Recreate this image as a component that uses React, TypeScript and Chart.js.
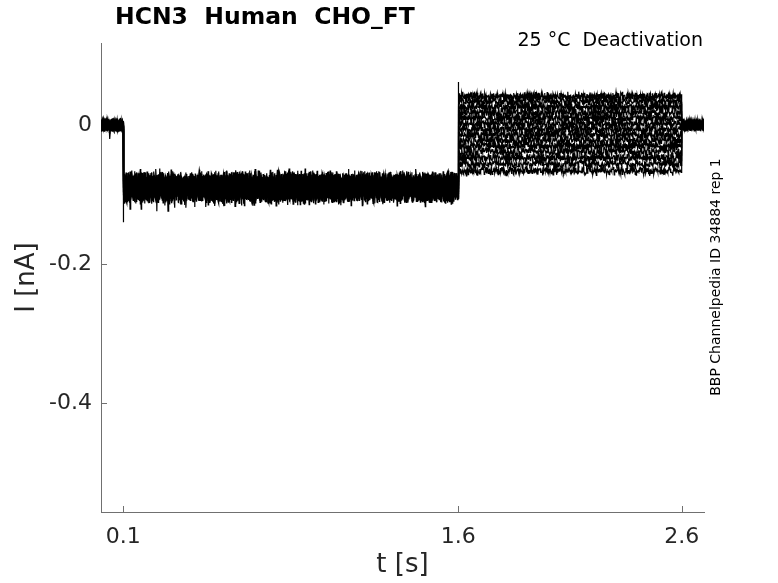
import React, { useEffect, useRef } from "react";
import { Chart, registerables } from "chart.js";

Chart.register(...registerables);

// ---- data ----
const xTicks = [0.1, 1.6, 2.6];
const yTicks = [0, -0.2, -0.4];
const xMin = 0;
const xMax = 2.7;
const yMin = -0.557;
const yMax = 0.118;

// protocol step times [s]
const stepTimes = [0.1, 1.6, 2.6];
// baseline current [nA]
const baseLevel = 0;
// holding current during the conditioning step, per sweep [nA]
const holdLevels = [-0.092, -0.088, -0.094, -0.086, -0.091, -0.089, -0.095, -0.087, -0.092, -0.088, -0.093, -0.085, -0.091, -0.089];
// current during the test step, per sweep [nA]
const testLevels = [0.041, 0.034, 0.026, 0.018, 0.010, 0.002, -0.006, -0.014, -0.022, -0.030, -0.038, -0.047, -0.056, -0.066];
// capacitive spikes
const onsetSpike = -0.14;
const testSpike = 0.062;
// small dip before the step, and deep excursions during the hold
const preDip = { t: 0.04, y: -0.02 };
const holdSpikes = [
  { t: 0.13, y: -0.121 },
  { t: 0.25, y: -0.124 },
  { t: 0.33, y: -0.119 },
  { t: 0.42, y: -0.118 },
  { t: 0.55, y: -0.117 },
  { t: 0.63, y: -0.116 },
  { t: 0.86, y: -0.114 },
  { t: 1.02, y: -0.113 },
  { t: 1.12, y: -0.116 },
  { t: 1.31, y: -0.112 },
  { t: 1.47, y: -0.111 },
];
// noise amplitude per segment [nA]
const noiseAmp = [0.009, 0.02, 0.0065, 0.008];
// hand-typed noise texture (unitless)
const noise = [
  0.3, -0.7, 0.5, 0.1, -0.2, 0.9, -0.4, -0.8, 0.6, 0.2, -0.1, 0.7, -0.6, 0.4, -0.9, 0.0, 0.8, -0.3, 0.5, -0.5,
  0.2, -0.7, 0.6, 0.1, -0.4, 0.9, -0.2, 0.3, -0.8, 0.4, -0.1, 0.7, -0.6, 0.0, 0.5, -0.3, 0.8, -0.9, 0.2, -0.5,
  0.6, -0.2, 0.1, -0.7, 0.9, -0.4, 0.3, -0.1, 0.7, -0.8, 0.4, 0.0, -0.6, 0.5, -0.3, 0.8, -0.2, 0.1, -0.9, 0.6,
  -0.5, 0.3, 0.7, -0.4, 0.2, -0.8, 0.5, -0.1, 0.9, -0.6, 0.0, 0.4, -0.3, 0.6, -0.7, 0.2, -0.2, 0.8, -0.5, 0.1,
  -0.9, 0.7, -0.4, 0.3, -0.6, 0.5, 0.0, -0.3, 0.9, -0.8, 0.2, -0.1, 0.6, -0.5, 0.4, -0.7, 0.1,
];
// per-sweep strides through the noise texture
const strides = [1, 2, 3, 4, 5, 6, 7, 8, 9, 10, 11, 12, 13, 14];

const titleText = "HCN3  Human  CHO_FT";
const subText = "25 °C  Deactivation";
const sideText = "BBP Channelpedia ID 34884 rep 1";
const xLabel = "t [s]";
const yLabel = "I [nA]";

const SAMPLE_DT = 0.002;

function buildSweep(k: number) {
  const pts: { x: number; y: number }[] = [];
  const bounds = [xMin, stepTimes[0], stepTimes[1], stepTimes[2], xMax];
  const levels = [baseLevel, holdLevels[k], testLevels[k], baseLevel];
  let step = 0;
  const m = strides[k];
  const nz = () => {
    const a = noise[(step * m + k * 11) % noise.length];
    const b = noise[(step * (m + 3) + k * 7) % 89];
    step++;
    return 0.6 * a + 0.4 * b;
  };
  for (let s = 0; s < 4; s++) {
    const a = bounds[s];
    const b = bounds[s + 1];
    const n = Math.max(2, Math.round((b - a) / SAMPLE_DT));
    for (let i = 0; i <= n; i++) {
      const t = a + ((b - a) * i) / n;
      let y = levels[s] + nz() * noiseAmp[s] * 1.25;
      if (k === 0 && s === 0 && Math.abs(t - preDip.t) < SAMPLE_DT / 2) y = preDip.y;
      if (s === 1 && (k === 3 || k === 6)) {
        for (const hs of holdSpikes) {
          const tt = k === 3 ? hs.t : hs.t + 0.05;
          if (Math.abs(t - tt) < SAMPLE_DT / 2) y = hs.y;
        }
      }
      pts.push({ x: t, y });
    }
    if (k === 0 && s === 0) pts.push({ x: stepTimes[0], y: onsetSpike });
    if (k === 0 && s === 1) pts.push({ x: stepTimes[1], y: testSpike });
  }
  return pts;
}

const decor = {
  id: "decor",
  beforeDatasetsDraw(chart: any) {
    const { ctx, scales, chartArea } = chart;
    const x = scales.x;
    const y = scales.y;
    ctx.save();
    ctx.strokeStyle = "#707070";
    ctx.lineWidth = 1;
    xTicks.forEach((v) => {
      const px = Math.round(x.getPixelForValue(v)) + 0.5;
      ctx.beginPath();
      ctx.moveTo(px, chartArea.bottom);
      ctx.lineTo(px, chartArea.bottom - 6);
      ctx.stroke();
    });
    yTicks.forEach((v) => {
      const py = Math.round(y.getPixelForValue(v)) + 0.5;
      ctx.beginPath();
      ctx.moveTo(chartArea.left, py);
      ctx.lineTo(chartArea.left + 6, py);
      ctx.stroke();
    });
    ctx.restore();
  },
  afterDraw(chart: any) {
    const { ctx } = chart;
    ctx.save();
    ctx.fillStyle = "#000";
    ctx.textBaseline = "middle";
    ctx.textAlign = "left";
    ctx.font = 'bold 23.5px "DejaVu Sans"';
    ctx.fillText(titleText, 115, 18);
    ctx.font = '19px "DejaVu Sans"';
    ctx.textAlign = "right";
    ctx.fillText(subText, 703, 41);
    ctx.translate(716, 277);
    ctx.rotate(-Math.PI / 2);
    ctx.textAlign = "center";
    ctx.font = '14px "DejaVu Sans"';
    ctx.fillText(sideText, 0, 0);
    ctx.restore();
  },
};

export default function App() {
  const ref = useRef<HTMLCanvasElement | null>(null);
  useEffect(() => {
    if (!ref.current) return;
    const datasets = holdLevels.map((_, k) => ({
      data: buildSweep(k),
      borderColor: "#000",
      borderWidth: 1.2,
      pointRadius: 0,
      tension: 0,
      fill: false,
    }));
    const chart = new Chart(ref.current, {
      type: "line",
      data: { datasets },
      plugins: [decor],
      options: {
        animation: false,
        responsive: false,
        parsing: false,
        normalized: true,
        layout: { padding: { left: 0, top: 43, right: 74, bottom: 0 } },
        plugins: { legend: { display: false }, tooltip: { enabled: false } },
        scales: {
          x: {
            type: "linear",
            min: xMin,
            max: xMax,
            grid: { display: false, drawTicks: false },
            border: { display: true, color: "#707070", width: 1 },
            afterBuildTicks: (s: any) => {
              s.ticks = xTicks.map((v) => ({ value: v }));
            },
            afterFit: (s: any) => {
              s.height = 71;
            },
            ticks: {
              padding: 12,
              color: "#262626",
              font: { family: "DejaVu Sans", size: 22 },
              maxRotation: 0,
              autoSkip: false,
              callback: (v: any) => String(v),
            },
            title: {
              display: true,
              text: xLabel,
              color: "#262626",
              font: { family: "DejaVu Sans", size: 26 },
              padding: { top: 0, bottom: 2 },
            },
          },
          y: {
            type: "linear",
            min: yMin,
            max: yMax,
            grid: { display: false, drawTicks: false },
            border: { display: true, color: "#707070", width: 1 },
            afterBuildTicks: (s: any) => {
              s.ticks = yTicks.map((v) => ({ value: v }));
            },
            afterFit: (s: any) => {
              s.width = 101;
            },
            ticks: {
              padding: 9,
              color: "#262626",
              font: { family: "DejaVu Sans", size: 22 },
              autoSkip: false,
              callback: (v: any) => String(v),
            },
            title: {
              display: true,
              text: yLabel,
              color: "#262626",
              font: { family: "DejaVu Sans", size: 26 },
              padding: { top: 12, bottom: 0 },
            },
          },
        },
      },
    });
    return () => chart.destroy();
  }, []);
  return (
    <div style={{ position: "absolute", left: 0, top: 0, width: 778, height: 583, background: "#fff" }}>
      <canvas ref={ref} width={778} height={583} style={{ width: 778, height: 583 }} />
    </div>
  );
}
